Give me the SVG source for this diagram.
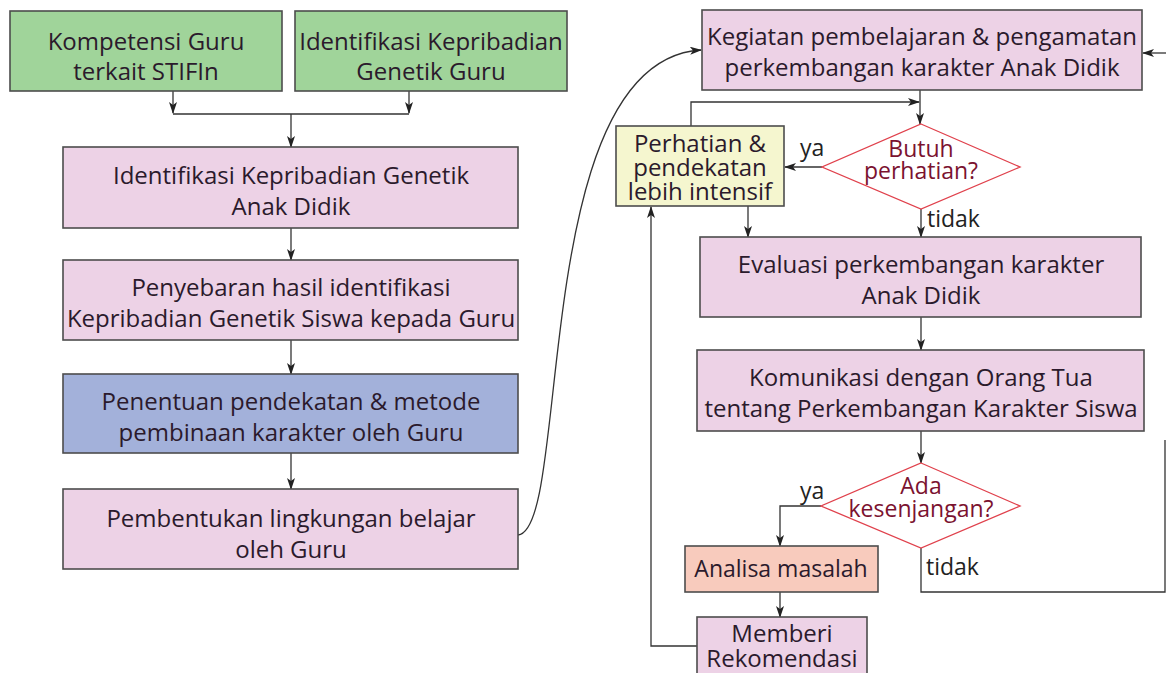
<svg xmlns="http://www.w3.org/2000/svg" width="1166" height="673" viewBox="0 0 1166 673">
<style>
  .box { stroke: #4d4d4d; stroke-width: 1.6; }
  .green { fill: #a0d49a; }
  .pink { fill: #edd2e6; }
  .blue { fill: #a3b1da; }
  .yellow { fill: #f5f6cf; }
  .salmon { fill: #f8cbbd; }
  .dia { fill: #ffffff; stroke: #e0414c; stroke-width: 1.3; }
  text { font-family: "Open Sans", "Liberation Sans", sans-serif; font-size: 24px; fill: #2b1a2c; text-anchor: middle; }
  .dt { fill: #7b1230; font-size: 23px; }
  .lbl { text-anchor: start; fill: #222; font-size: 23px; }
  .sm { font-size: 23px; }
  .conn path { fill: none; stroke: #333; stroke-width: 1.3; }
  .arr { marker-end: url(#ah); }
</style>
<defs>
  <marker id="ah" viewBox="0 0 12 8" refX="11" refY="4" markerWidth="12" markerHeight="8" markerUnits="userSpaceOnUse" orient="auto">
    <path d="M0,0 L12,4 L0,8 L3,4 z" fill="#222"/>
  </marker>
</defs>
<rect width="1166" height="673" fill="#ffffff"/>

<g class="conn">
  <path d="M173,91 V113" class="arr"/>
  <path d="M409,91 V113" class="arr"/>
  <path d="M173,114 H409"/>
  <path d="M291,114 V147" class="arr"/>
  <path d="M291,228 V260" class="arr"/>
  <path d="M291,340 V374" class="arr"/>
  <path d="M291,453 V489" class="arr"/>
  <path d="M518,535 C572,530 528,60 701,50" class="arr"/>
  <path d="M920,90 V124" class="arr"/>
  <path d="M691,126 V102 H919" class="arr"/>
  <path d="M822,167 H785" class="arr"/>
  <path d="M748,206 V237" class="arr"/>
  <path d="M921,209 V237" class="arr"/>
  <path d="M921,317 V350" class="arr"/>
  <path d="M921,431 V463" class="arr"/>
  <path d="M821,506 H780 V546" class="arr"/>
  <path d="M780,592 V617" class="arr"/>
  <path d="M697,646 H651 V207" class="arr"/>
  <path d="M921,548 V592 H1165 V440"/>
  <path d="M1166,53 H1143" class="arr"/>
</g>

<g id="n-kompetensi">
  <rect class="box green" x="10" y="11" width="272" height="80"/>
  <text x="146" y="50">Kompetensi Guru</text>
  <text x="146" y="80">terkait STIFIn</text>
</g>
<g id="n-identguru">
  <rect class="box green" x="295" y="11" width="272" height="80"/>
  <text x="431" y="50">Identifikasi Kepribadian</text>
  <text x="431" y="80">Genetik Guru</text>
</g>
<g id="n-identanak">
  <rect class="box pink" x="63" y="147" width="455" height="81"/>
  <text x="291" y="184">Identifikasi Kepribadian Genetik</text>
  <text x="291" y="215">Anak Didik</text>
</g>
<g id="n-penyebaran">
  <rect class="box pink" x="63" y="260" width="455" height="80"/>
  <text x="291" y="296">Penyebaran hasil identifikasi</text>
  <text x="291" y="327">Kepribadian Genetik Siswa kepada Guru</text>
</g>
<g id="n-penentuan">
  <rect class="box blue" x="63" y="374" width="455" height="79"/>
  <text x="291" y="410">Penentuan pendekatan &amp; metode</text>
  <text x="291" y="441">pembinaan karakter oleh Guru</text>
</g>
<g id="n-pembentukan">
  <rect class="box pink" x="63" y="489" width="455" height="80"/>
  <text x="291" y="527">Pembentukan lingkungan belajar</text>
  <text x="291" y="558">oleh Guru</text>
</g>
<g id="n-kegiatan">
  <rect class="box pink" x="702" y="10" width="440" height="80"/>
  <text x="922" y="45">Kegiatan pembelajaran &amp; pengamatan</text>
  <text x="922" y="76">perkembangan karakter Anak Didik</text>
</g>
<g id="n-perhatian">
  <rect class="box yellow" x="616" y="126" width="168" height="80"/>
  <text x="700" y="152">Perhatian &amp;</text>
  <text x="700" y="176">pendekatan</text>
  <text x="700" y="200">lebih intensif</text>
</g>
<g id="n-butuh">
  <polygon class="dia" points="921,124 1020,167 921,209 822,167"/>
  <text class="dt" x="921" y="157">Butuh</text>
  <text class="dt" x="921" y="179">perhatian?</text>
</g>
<g id="n-evaluasi">
  <rect class="box pink" x="700" y="237" width="441" height="80"/>
  <text x="921" y="273">Evaluasi perkembangan karakter</text>
  <text x="921" y="304">Anak Didik</text>
</g>
<g id="n-komunikasi">
  <rect class="box pink" x="697" y="350" width="447" height="81"/>
  <text x="921" y="386">Komunikasi dengan Orang Tua</text>
  <text x="921" y="417">tentang Perkembangan Karakter Siswa</text>
</g>
<g id="n-ada">
  <polygon class="dia" points="921,463 1020,506 921,548 821,506"/>
  <text class="dt" x="921" y="494">Ada</text>
  <text class="dt" x="921" y="517">kesenjangan?</text>
</g>
<g id="n-analisa">
  <rect class="box salmon" x="685" y="546" width="193" height="46"/>
  <text class="sm" x="781" y="577">Analisa masalah</text>
</g>
<g id="n-memberi">
  <rect class="box pink" x="697" y="617" width="170" height="70"/>
  <text x="782" y="642">Memberi</text>
  <text x="782" y="667">Rekomendasi</text>
</g>

<g id="labels">
  <text class="lbl" x="800" y="156">ya</text>
  <text class="lbl" x="927" y="227">tidak</text>
  <text class="lbl" x="800" y="499">ya</text>
  <text class="lbl" x="926" y="575">tidak</text>
</g>
</svg>
